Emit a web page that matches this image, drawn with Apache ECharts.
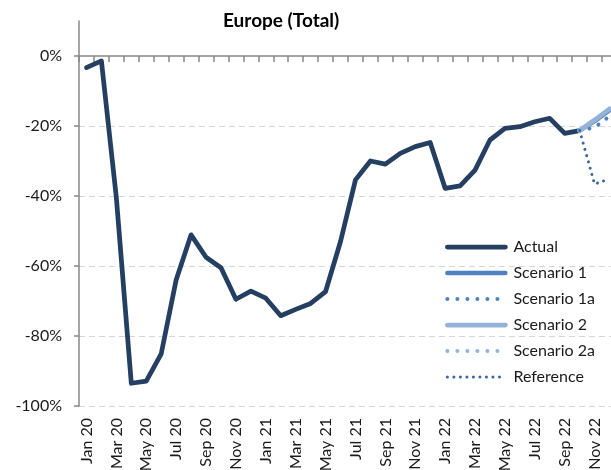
<!DOCTYPE html>
<html>
<head>
<meta charset="utf-8">
<script src="https://cdn.jsdelivr.net/npm/echarts@6/dist/echarts.min.js"></script>
<style>
  html, body { margin: 0; padding: 0; background: #fff; }
  #chart { width: 611px; height: 470px; }
</style>
</head>
<body>
<div id="chart"></div>
<script>
// Monthly change vs. 2019, Europe total
const months = [
  'Jan 20','Feb 20','Mar 20','Apr 20','May 20','Jun 20','Jul 20','Aug 20','Sep 20','Oct 20','Nov 20','Dec 20',
  'Jan 21','Feb 21','Mar 21','Apr 21','May 21','Jun 21','Jul 21','Aug 21','Sep 21','Oct 21','Nov 21','Dec 21',
  'Jan 22','Feb 22','Mar 22','Apr 22','May 22','Jun 22','Jul 22','Aug 22','Sep 22','Oct 22','Nov 22','Dec 22'
];

const actual = [
  -3.3, -1.4, -40.5, -93.5, -92.9, -85.1, -64.0, -51.1, -57.5, -60.5, -69.5, -67.2,
  -69.2, -74.2, -72.4, -70.7, -67.3, -53.0, -35.4, -30.0, -30.9, -27.8, -25.9, -24.7,
  -37.8, -37.1, -32.6, -24.0, -20.7, -20.2, -18.8, -17.8, -22.1, -21.3, null, null
];

// Projections start from the last actual month (Oct 22)
const projStart = 33;
const scenario1  = [-21.3, -18.6, -15.5];
const scenario1a = [-21.3, -20.4, -17.2];
const scenario2  = [-21.3, -18.3, -15.1];
const scenario2a = [-21.3, -18.3, -15.1];
const reference  = [-21.3, -36.6, -35.1];

const yTicks = [-100, -80, -60, -40, -20, 0];

function pad(values) {
  const out = months.map(() => null);
  values.forEach((v, i) => { out[projStart + i] = v; });
  return out;
}

const FONT = 'Lato, "Liberation Sans", sans-serif';
const AXIS_GREY = '#878787';

function lineSeries(name, data, color, width, dash) {
  return {
    name: name,
    type: 'line',
    xAxisIndex: 0,
    data: data,
    symbol: 'none',
    smooth: false,
    connectNulls: false,
    animation: false,
    lineStyle: {
      color: color,
      width: width,
      type: dash || 'solid',
      cap: 'round',
      join: 'round'
    },
    itemStyle: { color: color }
  };
}

const chart = echarts.init(document.getElementById('chart'), null, { renderer: 'canvas' });

chart.setOption({
  backgroundColor: '#ffffff',
  animation: false,
  title: {
    text: 'Europe (Total)',
    left: 218,
    top: 6,
    textStyle: { fontFamily: FONT, fontSize: 19, fontWeight: 'bold', color: '#000' }
  },
  grid: {
    left: 79,
    top: 21,
    width: 538,
    height: 385,
    containLabel: false,
    outerBoundsMode: 'none'
  },
  legend: {
    orient: 'vertical',
    left: 445,
    top: 238,
    padding: 0,
    itemWidth: 58,
    itemHeight: 2,
    itemGap: 8,
    selectedMode: false,
    itemStyle: { opacity: 0 },
    lineStyle: { width: 'inherit' },
    textStyle: { fontFamily: FONT, fontSize: 16, lineHeight: 18, color: '#1a1a1a', padding: [0, 0, 0, 3] },
    data: ['Actual', 'Scenario 1', 'Scenario 1a', 'Scenario 2', 'Scenario 2a', 'Reference']
  },
  xAxis: [
    {
      type: 'category',
      data: months,
      position: 'bottom',
      boundaryGap: true,
      axisLine: { show: false, onZero: false },
      axisTick: { show: false },
      splitLine: { show: false },
      axisLabel: {
        interval: 1,
        rotate: 90,
        margin: 12,
        fontFamily: FONT,
        fontSize: 16,
        color: '#1a1a1a'
      }
    },
    {
      type: 'category',
      data: months,
      position: 'bottom',
      boundaryGap: true,
      axisLine: { show: true, onZero: true, lineStyle: { color: AXIS_GREY, width: 1.5 } },
      axisTick: { show: true, interval: 0, length: 6, lineStyle: { color: AXIS_GREY, width: 1.5 } },
      axisLabel: { show: false },
      splitLine: { show: false }
    }
  ],
  yAxis: {
    type: 'value',
    min: -100,
    max: 10,
    interval: 20,
    axisLine: { show: true, lineStyle: { color: AXIS_GREY, width: 1.5 } },
    axisTick: { show: true, length: 5, customValues: yTicks, lineStyle: { color: AXIS_GREY, width: 1.5 } },
    axisLabel: {
      customValues: yTicks,
      formatter: v => v + '%',
      margin: 17,
      fontFamily: FONT,
      fontSize: 16,
      color: '#1a1a1a'
    },
    splitLine: {
      show: true,
      showMaxLine: false,
      lineStyle: { color: '#d6d6d6', width: 1.2, type: [6, 4] }
    }
  },
  series: [
    lineSeries('Actual', actual, '#243f62', 4.75),
    lineSeries('Scenario 1', pad(scenario1), '#4f81bd', 4.5),
    lineSeries('Scenario 1a', pad(scenario1a), '#4f81bd', 4, [0.01, 10]),
    lineSeries('Scenario 2', pad(scenario2), '#95b3d7', 4.75),
    lineSeries('Scenario 2a', pad(scenario2a), '#95b3d7', 4, [0.01, 10]),
    lineSeries('Reference', pad(reference), '#3a64a0', 3, [0.01, 6.5])
  ]
});
</script>
</body>
</html>
